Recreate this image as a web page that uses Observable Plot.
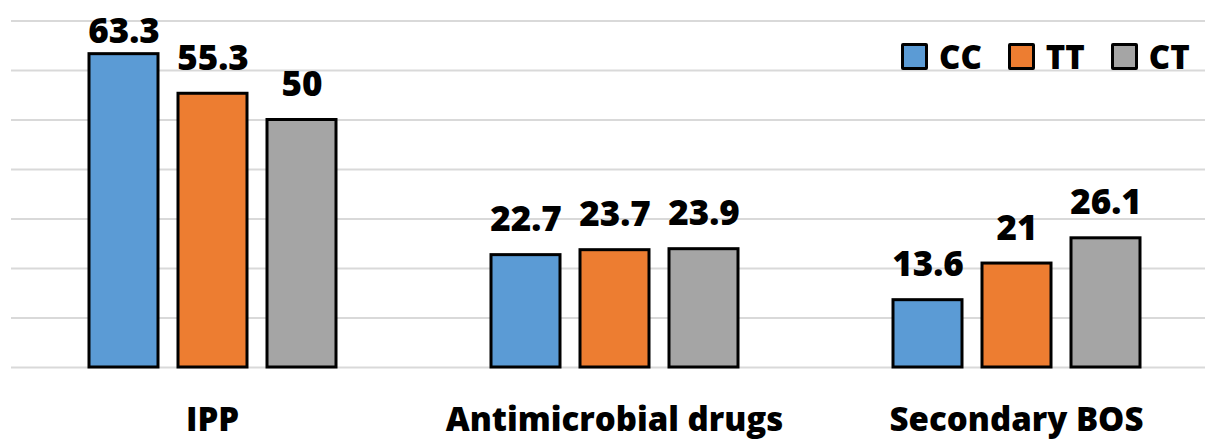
<!DOCTYPE html>
<html>
<head>
<meta charset="utf-8">
<script src="https://cdn.jsdelivr.net/npm/d3@7"></script>
<script src="https://cdn.jsdelivr.net/npm/@observablehq/plot@0.6"></script>
<style>
  html, body { margin: 0; padding: 0; background: #fff; overflow: hidden; }
  #wrap { position: relative; width: 1205px; height: 441px; }
  .legend { position: absolute; left: 901px; top: 43px; height: 27px; display: flex; align-items: center;
            font-family: "Open Sans", sans-serif; font-weight: 800; font-size: 33px; line-height: 1; color: #000; }
  .legend .item { display: flex; align-items: center; margin-right: 26px; }
  .legend .item:last-child { margin-right: 0; }
  .legend .sw { width: 27px; height: 27px; box-sizing: border-box; border: 3px solid #000; border-radius: 2px; margin-right: 11px; }
</style>
</head>
<body>
<div id="wrap"></div>
<script>
// Outcome groups and genotypes
const categories = ["IPP", "Antimicrobial drugs", "Secondary BOS"];
const genotypes = ["CC", "TT", "CT"];
const colors = ["#5B9BD5", "#ED7D31", "#A5A5A5"];

// Percentages per genotype, in the order of categories
const valuesCC = [63.3, 22.7, 13.6];
const valuesTT = [55.3, 23.7, 21];
const valuesCT = [50, 23.9, 26.1];

// Horizontal gridline values
const gridTicks = [0, 10, 20, 30, 40, 50, 60, 70];

const series = { CC: valuesCC, TT: valuesTT, CT: valuesCT };
const rows = [];
categories.forEach((group, i) => {
  genotypes.forEach(g => rows.push({ group, genotype: g, value: series[g][i] }));
});

// Labels that would run past the top of the plotting area are held inside it
const labelCap = 60.7;

const chart = Plot.plot({
  width: 1205,
  height: 441,
  marginTop: 20.5,
  marginBottom: 74,
  marginLeft: 10,
  marginRight: 0,
  style: { fontFamily: "Open Sans, sans-serif", fontSize: "33px", fontWeight: "800", color: "#000", background: "#fff", overflow: "visible" },
  fx: { domain: categories, padding: 0, range: [10, 1217.5], axis: "bottom", tickSize: 0, tickPadding: 40, label: null },
  x: { domain: genotypes, paddingInner: 0.229, paddingOuter: 0.863, axis: null },
  y: { domain: [0, 70], axis: null },
  color: { domain: genotypes, range: colors },
  marks: [
    Plot.ruleY(gridTicks, { stroke: "#D9D9D9", strokeWidth: 2 }),
    Plot.barY(rows, { fx: "group", x: "genotype", y: "value", fill: "genotype", stroke: "#000", strokeWidth: 3 }),
    Plot.text(rows, {
      fx: "group", x: "genotype",
      y: d => Math.min(d.value, labelCap),
      text: d => String(d.value),
      fontSize: 35,
      lineAnchor: "bottom", dy: -24, fill: "#000"
    })
  ]
});

const wrap = document.getElementById("wrap");
wrap.appendChild(chart);

// Legend in the upper right corner
const legend = document.createElement("div");
legend.className = "legend";
genotypes.forEach((g, i) => {
  const item = document.createElement("div");
  item.className = "item";
  const sw = document.createElement("div");
  sw.className = "sw";
  sw.style.background = colors[i];
  const label = document.createElement("span");
  label.textContent = g;
  item.appendChild(sw);
  item.appendChild(label);
  legend.appendChild(item);
});
wrap.appendChild(legend);
</script>
</body>
</html>
